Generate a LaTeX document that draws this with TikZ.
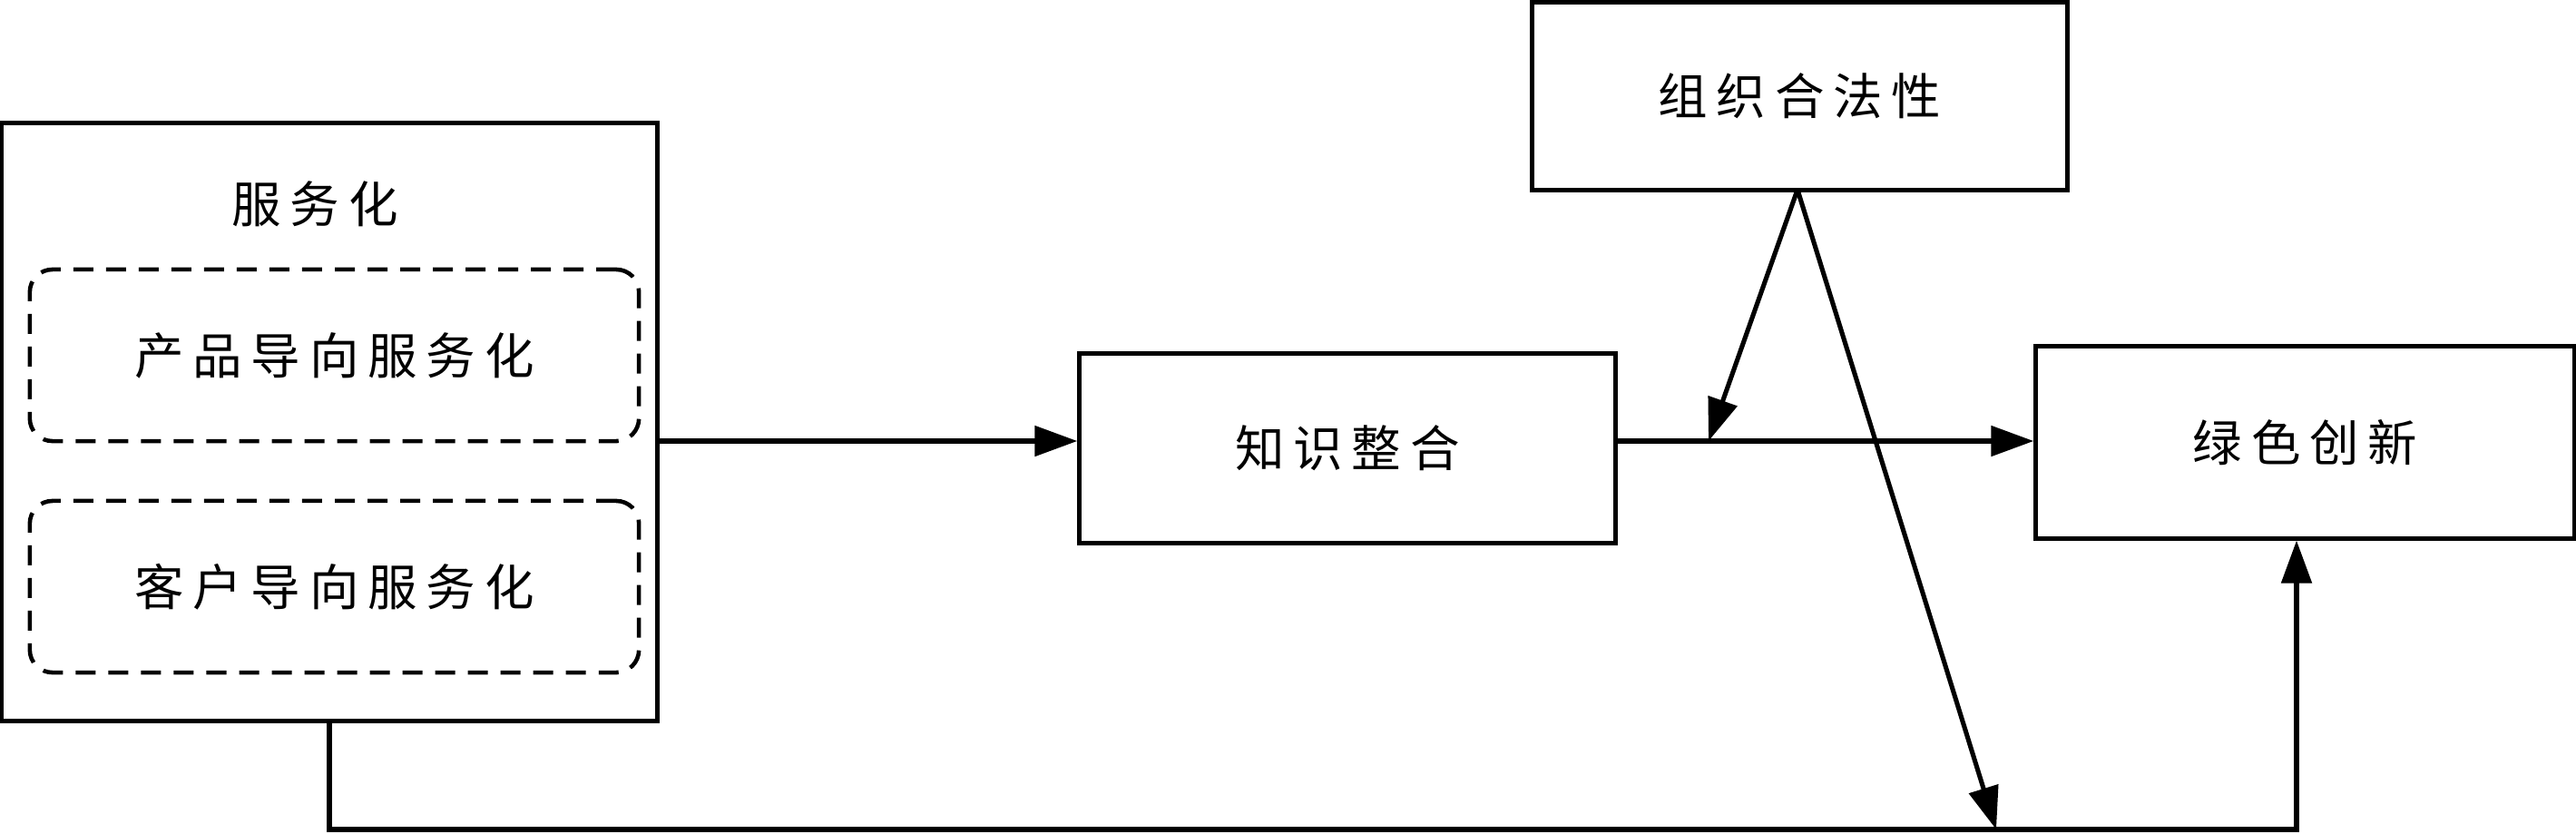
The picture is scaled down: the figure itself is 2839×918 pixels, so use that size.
\documentclass[tikz,border=0pt]{standalone}
\usepackage{fontspec}
\newfontfamily\cjk[LetterSpace=18]{Noto Sans CJK SC}
\usetikzlibrary{arrows.meta,calc}
\begin{document}
\begin{tikzpicture}[x=0.01cm,y=-0.01cm,
  every node/.style={font=\cjk\fontsize{15.5pt}{18pt}\selectfont},
  solidbox/.style={draw,line width=1.45pt,inner sep=0pt},
  dashbox/.style={draw,line width=1.3pt,inner sep=0pt,rounded corners=0.25cm,
     dash pattern=on 0.22cm off 0.14cm},
  conn/.style={line width=1.45pt},
  arr/.style={conn,-{Triangle[length=0.47cm,width=0.33cm]}}]
\useasboundingbox (0,0) rectangle (2839,918);
% nodes
\node[solidbox,minimum width=7.22cm,minimum height=6.58cm] (A) at (363,465) {};
\node (At) at (347,225) {服务化};
\node[dashbox,minimum width=6.71cm,minimum height=1.89cm] (P) at (368.5,391.5) {产品导向服务化};
\node[dashbox,minimum width=6.71cm,minimum height=1.89cm] (C) at (368.5,646.5) {客户导向服务化};
\node[solidbox,minimum width=5.90cm,minimum height=2.08cm] (K) at (1485,494) {知识整合};
\node[solidbox,minimum width=5.89cm,minimum height=2.06cm] (O) at (1983.5,106) {组织合法性};
\node[solidbox,minimum width=5.93cm,minimum height=2.11cm] (G) at (2540.5,487.5) {绿色创新};
% helper coordinates
\coordinate (row) at (0,486);
\coordinate (bot) at (0,914);
\coordinate (m) at (1883,486);
\coordinate (b) at (2200,914);
\coordinate (gx) at (2531,0);
\coordinate (os) at (1981,209);
% connectors
\draw[arr] (A.east |- row) -- (K.west |- row);
\draw[arr] (K.east |- row) -- (G.west |- row);
\draw[arr] (os) -- (m);
\draw[arr] (os) -- (b);
\draw[arr] (A.south) -- (A.south |- bot) -- (gx |- bot) -- (gx |- G.south);
\end{tikzpicture}
\end{document}
